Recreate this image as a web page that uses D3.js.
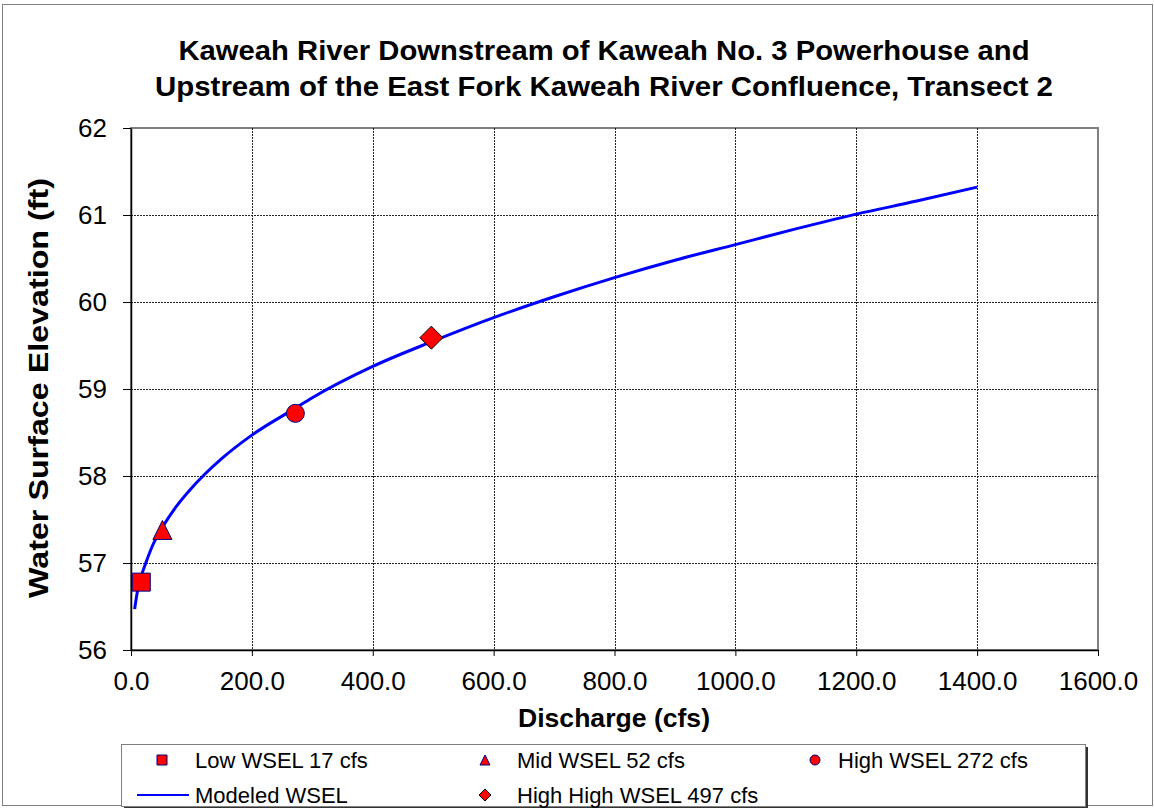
<!DOCTYPE html>
<html>
<head>
<meta charset="utf-8">
<script src="https://cdn.jsdelivr.net/npm/d3@7"></script>
<style>
  html, body { margin: 0; padding: 0; background: #fff; }
  svg { display: block; font-family: Arial, "Liberation Sans", sans-serif; }
</style>
</head>
<body>
<svg id="chart" width="1154" height="808"></svg>
<script>
// Rating curve for the transect (discharge in cfs, water surface elevation in ft)
const modeledQ = [6, 10, 17, 25, 35, 52, 75, 100, 122, 150, 200, 272, 300, 400, 500, 600, 700, 800, 900, 1000, 1100, 1200, 1300, 1400];
const modeledWSEL = [56.47, 56.65, 56.85, 57.01, 57.19, 57.41, 57.65, 57.86, 58.02, 58.2, 58.47, 58.78, 58.9, 59.26, 59.55, 59.82, 60.06, 60.28, 60.48, 60.66, 60.84, 61.01, 61.16, 61.32];

// Observed water surface elevations
const observedNames = ["Low WSEL 17 cfs", "Mid WSEL 52 cfs", "High WSEL 272 cfs", "High High WSEL 497 cfs"];
const observedQ = [17, 52, 272, 497];
const observedWSEL = [56.78, 57.38, 58.72, 59.59];
const observedShapes = ["square", "triangle", "circle", "diamond"];

const xTicks = [0, 200, 400, 600, 800, 1000, 1200, 1400, 1600];
const yTicks = [56, 57, 58, 59, 60, 61, 62];

const titleLines = ["Kaweah River Downstream of Kaweah No. 3 Powerhouse and",
                    "Upstream of the East Fork Kaweah River Confluence, Transect 2"];

const svg = d3.select("#chart");
const W = 1154, H = 808;
const plot = { left: 131, right: 1098, top: 128, bottom: 650 };
const FONT = "Arial, 'Liberation Sans', sans-serif";

// chart frame
svg.append("rect").attr("x", 2.5).attr("y", 4.5).attr("width", W - 4).attr("height", H - 7)
  .attr("fill", "#fff").attr("stroke", "#808080").attr("stroke-width", 1);

const x = d3.scaleLinear().domain([0, 1600]).range([plot.left, plot.right]);
const y = d3.scaleLinear().domain([56, 62]).range([plot.bottom, plot.top]);

// plot area border (gray on top/right)
svg.append("rect").attr("x", plot.left).attr("y", plot.top)
  .attr("width", plot.right - plot.left).attr("height", plot.bottom - plot.top)
  .attr("fill", "none").attr("stroke", "#808080").attr("stroke-width", 2);

// gridlines
const grid = svg.append("g").attr("stroke", "#000").attr("stroke-width", 1)
  .attr("stroke-dasharray", "2,1").attr("opacity", 0.85);
xTicks.filter(d => d > 0 && d < 1600).forEach(d => {
  grid.append("line").attr("x1", Math.round(x(d)) + 0.5).attr("x2", Math.round(x(d)) + 0.5)
    .attr("y1", plot.top).attr("y2", plot.bottom);
});
yTicks.filter(d => d > 56 && d < 62).forEach(d => {
  grid.append("line").attr("y1", Math.round(y(d)) + 0.5).attr("y2", Math.round(y(d)) + 0.5)
    .attr("x1", plot.left).attr("x2", plot.right);
});

// axes
const xAxis = d3.axisBottom(x).tickValues(xTicks).tickSize(6).tickSizeOuter(0)
  .tickFormat(d3.format(".1f"));
const gx = svg.append("g").attr("transform", `translate(0,${plot.bottom})`).call(xAxis);
gx.select(".domain").attr("stroke", "#000").attr("stroke-width", 1.5);
gx.selectAll(".tick line").attr("stroke", "#000");
gx.selectAll(".tick text").attr("font-size", 26).attr("fill", "#000").attr("dy", "0").attr("y", 40)
  .attr("font-family", FONT);

const yAxis = d3.axisLeft(y).tickValues(yTicks).tickSize(8).tickSizeOuter(0).tickFormat(d3.format("d"));
const gy = svg.append("g").attr("transform", `translate(${plot.left},0)`).call(yAxis);
gy.select(".domain").attr("stroke", "#000").attr("stroke-width", 1.5);
gy.selectAll(".tick line").attr("stroke", "#000");
gy.selectAll(".tick text").attr("font-size", 26).attr("fill", "#000").attr("x", -24).attr("dy", "0.33em")
  .attr("font-family", FONT);

// title
const titleWidths = [851, 898];
titleLines.forEach((t, i) => {
  svg.append("text").attr("x", 604).attr("y", 60 + i * 36).attr("text-anchor", "middle")
    .attr("font-weight", "bold").attr("font-size", 27).attr("fill", "#000")
    .attr("textLength", titleWidths[i]).attr("lengthAdjust", "spacingAndGlyphs").text(t);
});

// axis titles
svg.append("text").attr("x", 614).attr("y", 727).attr("text-anchor", "middle")
  .attr("font-weight", "bold").attr("font-size", 26)
  .attr("textLength", 192).attr("lengthAdjust", "spacingAndGlyphs").text("Discharge (cfs)");
svg.append("text").attr("transform", "translate(48,388) rotate(-90)").attr("text-anchor", "middle")
  .attr("font-weight", "bold").attr("font-size", 27)
  .attr("textLength", 420).attr("lengthAdjust", "spacingAndGlyphs").text("Water Surface Elevation (ft)");

// modeled curve
const line = d3.line().x((d, i) => x(modeledQ[i])).y(d => y(d)).curve(d3.curveMonotoneX);
svg.append("path").datum(modeledWSEL).attr("d", line)
  .attr("fill", "none").attr("stroke", "#0000ff").attr("stroke-width", 3);

// marker shapes
function markerPath(shape, s) {
  const h = s / 2;
  switch (shape) {
    case "square": return `M${-h},${-h}H${h}V${h}H${-h}Z`;
    case "triangle": return `M0,${-h}L${h},${h}L${-h},${h}Z`;
    case "diamond": return `M0,${-h}L${h},0L0,${h}L${-h},0Z`;
    default: return `M${h},0A${h},${h} 0 1,1 ${-h},0A${h},${h} 0 1,1 ${h},0Z`;
  }
}
const markerSize = { square: 18, triangle: 19, circle: 18, diamond: 23 };
const markerStroke = { square: "#000080", triangle: "#000080", circle: "#000080", diamond: "#000" };

svg.append("g").selectAll("path").data(observedQ).join("path")
  .attr("transform", (d, i) => `translate(${x(d)},${y(observedWSEL[i])})`)
  .attr("d", (d, i) => markerPath(observedShapes[i], markerSize[observedShapes[i]]))
  .attr("fill", "#ff0000")
  .attr("stroke", (d, i) => markerStroke[observedShapes[i]])
  .attr("stroke-width", 1);

// legend
const lg = svg.append("g");
lg.append("rect").attr("x", 124).attr("y", 747).attr("width", 964).attr("height", 62).attr("fill", "#333");
lg.append("rect").attr("x", 121.5).attr("y", 744.5).attr("width", 964).attr("height", 62)
  .attr("fill", "#fff").attr("stroke", "#808080").attr("stroke-width", 1);

const legendItems = [
  { label: observedNames[0], shape: observedShapes[0], cx: 162, cy: 760, tx: 195 },
  { label: observedNames[1], shape: observedShapes[1], cx: 485, cy: 760, tx: 517 },
  { label: observedNames[2], shape: observedShapes[2], cx: 815, cy: 760, tx: 838 },
  { label: "Modeled WSEL", shape: "line", cx: 162, cy: 795, tx: 195 },
  { label: observedNames[3], shape: observedShapes[3], cx: 485, cy: 795, tx: 517 }
];
legendItems.forEach(it => {
  if (it.shape === "line") {
    lg.append("line").attr("x1", 137).attr("x2", 189).attr("y1", it.cy).attr("y2", it.cy)
      .attr("stroke", "#0000ff").attr("stroke-width", 2);
  } else {
    lg.append("path").attr("transform", `translate(${it.cx},${it.cy})`)
      .attr("d", markerPath(it.shape, it.shape === "diamond" ? 12 : 10))
      .attr("fill", "#ff0000").attr("stroke", markerStroke[it.shape]).attr("stroke-width", 1);
  }
  lg.append("text").attr("x", it.tx).attr("y", it.cy).attr("dy", "0.35em")
    .attr("font-size", 22).attr("fill", "#000").text(it.label);
});
</script>
</body>
</html>
